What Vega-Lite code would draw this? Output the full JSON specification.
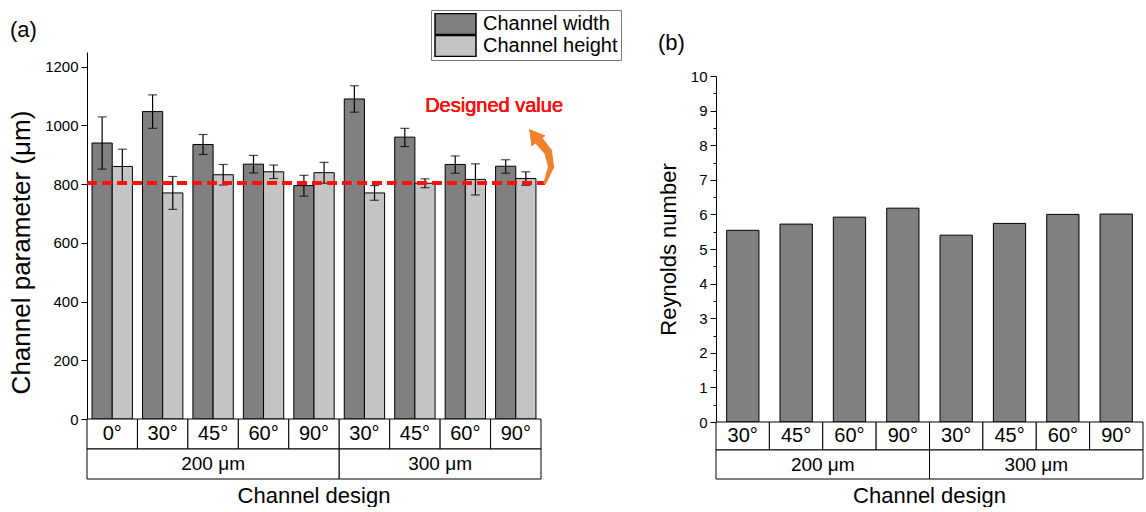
{
  "$schema": "https://vega.github.io/schema/vega-lite/v6.json",
  "background": "white",
  "padding": {"left": 8, "top": 9, "right": 2, "bottom": 0},
  "config": {
    "font": "Liberation Sans",
    "view": {"stroke": null},
    "axis": {"labelColor": "black", "titleColor": "black", "domainColor": "black", "tickColor": "black", "labelFontSize": 15, "titleFontSize": 22, "titleFontWeight": "normal", "grid": false, "labelOverlap": false},
    "title": {"fontWeight": "normal", "color": "black"}
  },
  "datasets": {
    "params": [
      {"key": "200-0°", "series": "Channel width", "value": 940, "lo": 851, "hi": 1029},
      {"key": "200-30°", "series": "Channel width", "value": 1047, "lo": 990, "hi": 1104},
      {"key": "200-45°", "series": "Channel width", "value": 935, "lo": 901, "hi": 969},
      {"key": "200-60°", "series": "Channel width", "value": 868, "lo": 838, "hi": 898},
      {"key": "200-90°", "series": "Channel width", "value": 795, "lo": 759, "hi": 830},
      {"key": "300-30°", "series": "Channel width", "value": 1090, "lo": 1045, "hi": 1135},
      {"key": "300-45°", "series": "Channel width", "value": 960, "lo": 928, "hi": 990},
      {"key": "300-60°", "series": "Channel width", "value": 867, "lo": 837, "hi": 896},
      {"key": "300-90°", "series": "Channel width", "value": 861, "lo": 837, "hi": 883},
      {"key": "200-0°", "series": "Channel height", "value": 860, "lo": 801, "hi": 919},
      {"key": "200-30°", "series": "Channel height", "value": 770, "lo": 714, "hi": 826},
      {"key": "200-45°", "series": "Channel height", "value": 832, "lo": 797, "hi": 867},
      {"key": "200-60°", "series": "Channel height", "value": 842, "lo": 819, "hi": 865},
      {"key": "200-90°", "series": "Channel height", "value": 839, "lo": 803, "hi": 874},
      {"key": "300-30°", "series": "Channel height", "value": 770, "lo": 745, "hi": 795},
      {"key": "300-45°", "series": "Channel height", "value": 803, "lo": 788, "hi": 818},
      {"key": "300-60°", "series": "Channel height", "value": 816, "lo": 763, "hi": 869},
      {"key": "300-90°", "series": "Channel height", "value": 819, "lo": 796, "hi": 842}
    ],
    "arrow": [
      {"i": 1, "ax": 9.08, "ay": 805, "w": 3},
      {"i": 2, "ax": 9.2, "ay": 859, "w": 6},
      {"i": 3, "ax": 9.14, "ay": 910, "w": 8},
      {"i": 4, "ax": 8.95, "ay": 950, "w": 9}
    ],
    "reynolds": [
      {"key": "200-30°", "re": 5.54},
      {"key": "200-45°", "re": 5.72},
      {"key": "200-60°", "re": 5.92},
      {"key": "200-90°", "re": 6.18},
      {"key": "300-30°", "re": 5.40},
      {"key": "300-45°", "re": 5.74},
      {"key": "300-60°", "re": 6.00},
      {"key": "300-90°", "re": 6.01}
    ],
    "angleA": [
      {"s": 0, "e": 1, "m": 0.5, "label": "0°"},
      {"s": 1, "e": 2, "m": 1.5, "label": "30°"},
      {"s": 2, "e": 3, "m": 2.5, "label": "45°"},
      {"s": 3, "e": 4, "m": 3.5, "label": "60°"},
      {"s": 4, "e": 5, "m": 4.5, "label": "90°"},
      {"s": 5, "e": 6, "m": 5.5, "label": "30°"},
      {"s": 6, "e": 7, "m": 6.5, "label": "45°"},
      {"s": 7, "e": 8, "m": 7.5, "label": "60°"},
      {"s": 8, "e": 9, "m": 8.5, "label": "90°"}
    ],
    "groupA": [
      {"s": 0, "e": 5, "m": 2.5, "label": "200 μm"},
      {"s": 5, "e": 9, "m": 7, "label": "300 μm"}
    ],
    "angleB": [
      {"s": 0, "e": 1, "m": 0.5, "label": "30°"},
      {"s": 1, "e": 2, "m": 1.5, "label": "45°"},
      {"s": 2, "e": 3, "m": 2.5, "label": "60°"},
      {"s": 3, "e": 4, "m": 3.5, "label": "90°"},
      {"s": 4, "e": 5, "m": 4.5, "label": "30°"},
      {"s": 5, "e": 6, "m": 5.5, "label": "45°"},
      {"s": 6, "e": 7, "m": 6.5, "label": "60°"},
      {"s": 7, "e": 8, "m": 7.5, "label": "90°"}
    ],
    "groupB": [
      {"s": 0, "e": 4, "m": 2, "label": "200 μm"},
      {"s": 4, "e": 8, "m": 6, "label": "300 μm"}
    ]
  },
  "spacing": 93,
  "hconcat": [
    {
      "spacing": 0,
      "bounds": "flush",
      "vconcat": [
        {
          "width": 454,
          "height": 367,
          "title": {"text": "(a)", "anchor": "start", "frame": "group", "fontSize": 22, "dx": -77, "offset": 10},
          "resolve": {"scale": {"x": "independent"}},
          "layer": [
            {
              "data": {"name": "params"},
              "layer": [
                {
                  "mark": {"type": "bar", "stroke": "black", "strokeWidth": 1},
                  "encoding": {
                    "x": {"field": "key", "type": "nominal", "scale": {"domain": ["200-0°", "200-30°", "200-45°", "200-60°", "200-90°", "300-30°", "300-45°", "300-60°", "300-90°"], "paddingInner": 0.2, "paddingOuter": 0.1}, "axis": null},
                    "xOffset": {"field": "series", "type": "nominal", "scale": {"domain": ["Channel width", "Channel height"], "paddingInner": 0, "paddingOuter": 0}},
                    "y": {
                      "field": "value", "type": "quantitative",
                      "scale": {"domain": [0, 1250], "nice": false},
                      "axis": {
                        "title": "Channel parameter (μm)",
                        "titleFontSize": 26,
                        "titleY": 200,
                        "values": [0, 50, 100, 150, 200, 250, 300, 350, 400, 450, 500, 550, 600, 650, 700, 750, 800, 850, 900, 950, 1000, 1050, 1100, 1150, 1200, 1250],
                        "labelExpr": "datum.value % 100 === 0 ? format(datum.value, 'd') : ''",
                        "tickSize": {"condition": {"test": "datum.value % 100 === 0", "value": 6}, "value": 3},
                        "labelPadding": 3,
                        "titlePadding": 10
                      }
                    },
                    "color": {
                      "field": "series", "type": "nominal",
                      "scale": {"domain": ["Channel width", "Channel height"], "range": ["#808080", "#c4c4c4"]},
                      "legend": {
                        "orient": "none", "legendX": 344, "legendY": -42, "title": null,
                        "labelFontSize": 20, "labelColor": "black",
                        "symbolType": "M-1.95,-1H1.95V1H-1.95Z", "symbolSize": 441,
                        "symbolStrokeColor": "black", "symbolStrokeWidth": 1.5, "symbolOpacity": 1,
                        "symbolOffset": 10, "labelOffset": 16,
                        "clipHeight": 22, "rowPadding": 0, "padding": 3,
                        "strokeColor": "#777", "fillColor": "white"
                      }
                    }
                  }
                },
                {
                  "mark": {"type": "rule", "color": "black", "strokeWidth": 1.2},
                  "encoding": {
                    "x": {"field": "key", "type": "nominal"},
                    "xOffset": {"field": "series", "type": "nominal"},
                    "y": {"field": "lo", "type": "quantitative"},
                    "y2": {"field": "hi"}
                  }
                },
                {
                  "mark": {"type": "tick", "color": "black", "thickness": 1.2, "size": 9},
                  "encoding": {
                    "x": {"field": "key", "type": "nominal"},
                    "xOffset": {"field": "series", "type": "nominal"},
                    "y": {"field": "lo", "type": "quantitative"}
                  }
                },
                {
                  "mark": {"type": "tick", "color": "black", "thickness": 1.2, "size": 9},
                  "encoding": {
                    "x": {"field": "key", "type": "nominal"},
                    "xOffset": {"field": "series", "type": "nominal"},
                    "y": {"field": "hi", "type": "quantitative"}
                  }
                }
              ]
            },
            {
              "data": {"name": "arrow"},
              "layer": [
                {
                  "mark": {"type": "rule", "color": "#ff1010", "strokeWidth": 3.5, "strokeDash": [10, 5]},
                  "encoding": {
                    "x": {"datum": 0, "type": "quantitative", "scale": {"domain": [0, 9], "nice": false, "zero": false}, "axis": null},
                    "x2": {"datum": 9.08},
                    "y": {"datum": 804, "type": "quantitative"}
                  }
                },
                {
                  "mark": {"type": "text", "color": "#ff1010", "fontSize": 20, "fontWeight": "normal"},
                  "encoding": {
                    "x": {"datum": 8.07, "type": "quantitative"},
                    "y": {"datum": 1066, "type": "quantitative"},
                    "text": {"value": "Designed value"}
                  }
                },
                {
                  "mark": {"type": "trail", "color": "#f0822e"},
                  "encoding": {
                    "x": {"field": "ax", "type": "quantitative"},
                    "y": {"field": "ay", "type": "quantitative"},
                    "size": {"field": "w", "type": "quantitative", "scale": null, "legend": null},
                    "order": {"field": "i"}
                  }
                },
                {
                  "mark": {"type": "point", "shape": "triangle-up", "filled": true, "color": "#f0822e", "opacity": 1, "size": 280, "angle": -38},
                  "encoding": {
                    "x": {"datum": 8.86, "type": "quantitative"},
                    "y": {"datum": 967, "type": "quantitative"}
                  }
                }
              ]
            }
          ]
        },
        {
          "width": 454,
          "height": 30,
          "data": {"name": "angleA"},
          "layer": [
            {
              "mark": {"type": "rect", "fill": "white", "stroke": "black", "strokeWidth": 1},
              "encoding": {
                "x": {"field": "s", "type": "quantitative", "scale": {"domain": [0, 9], "nice": false, "zero": false}, "axis": null},
                "x2": {"field": "e"}
              }
            },
            {
              "mark": {"type": "text", "fontSize": 20, "color": "black"},
              "encoding": {
                "x": {"field": "m", "type": "quantitative"},
                "text": {"field": "label"}
              }
            }
          ]
        },
        {
          "width": 454,
          "height": 30,
          "data": {"name": "groupA"},
          "title": {"text": "Channel design", "orient": "bottom", "fontSize": 22, "offset": 6},
          "layer": [
            {
              "mark": {"type": "rect", "fill": "white", "stroke": "black", "strokeWidth": 1},
              "encoding": {
                "x": {"field": "s", "type": "quantitative", "scale": {"domain": [0, 9], "nice": false, "zero": false}, "axis": null},
                "x2": {"field": "e"}
              }
            },
            {
              "mark": {"type": "text", "fontSize": 19, "color": "black"},
              "encoding": {
                "x": {"field": "m", "type": "quantitative"},
                "text": {"field": "label"}
              }
            }
          ]
        }
      ]
    },
    {
      "spacing": 0,
      "bounds": "flush",
      "vconcat": [
        {
          "width": 427,
          "height": 24,
          "data": {"values": [{"a": 1}]},
          "mark": {"type": "rect", "opacity": 0},
          "encoding": {}
        },
        {
          "width": 427,
          "height": 346,
          "title": {"text": "(b)", "anchor": "start", "frame": "group", "fontSize": 22, "dx": -58, "offset": 14},
          "data": {"name": "reynolds"},
          "mark": {"type": "bar", "fill": "#808080", "stroke": "black", "strokeWidth": 1},
          "encoding": {
            "x": {"field": "key", "type": "nominal", "scale": {"domain": ["200-30°", "200-45°", "200-60°", "200-90°", "300-30°", "300-45°", "300-60°", "300-90°"], "paddingInner": 0.395, "paddingOuter": 0.2}, "axis": null},
            "y": {
              "field": "re", "type": "quantitative",
              "scale": {"domain": [0, 10], "nice": false},
              "axis": {
                "title": "Reynolds number",
                "values": [0, 0.5, 1, 1.5, 2, 2.5, 3, 3.5, 4, 4.5, 5, 5.5, 6, 6.5, 7, 7.5, 8, 8.5, 9, 9.5, 10],
                "labelExpr": "datum.value % 1 === 0 ? format(datum.value, 'd') : ''",
                "tickSize": {"condition": {"test": "datum.value % 1 === 0", "value": 6}, "value": 3},
                "labelPadding": 3,
                "titlePadding": 10
              }
            }
          }
        },
        {
          "width": 427,
          "height": 28,
          "data": {"name": "angleB"},
          "layer": [
            {
              "mark": {"type": "rect", "fill": "white", "stroke": "black", "strokeWidth": 1},
              "encoding": {
                "x": {"field": "s", "type": "quantitative", "scale": {"domain": [0, 8], "nice": false, "zero": false}, "axis": null},
                "x2": {"field": "e"}
              }
            },
            {
              "mark": {"type": "text", "fontSize": 20, "color": "black"},
              "encoding": {
                "x": {"field": "m", "type": "quantitative"},
                "text": {"field": "label"}
              }
            }
          ]
        },
        {
          "width": 427,
          "height": 29,
          "data": {"name": "groupB"},
          "title": {"text": "Channel design", "orient": "bottom", "fontSize": 22, "offset": 6},
          "layer": [
            {
              "mark": {"type": "rect", "fill": "white", "stroke": "black", "strokeWidth": 1},
              "encoding": {
                "x": {"field": "s", "type": "quantitative", "scale": {"domain": [0, 8], "nice": false, "zero": false}, "axis": null},
                "x2": {"field": "e"}
              }
            },
            {
              "mark": {"type": "text", "fontSize": 19, "color": "black"},
              "encoding": {
                "x": {"field": "m", "type": "quantitative"},
                "text": {"field": "label"}
              }
            }
          ]
        }
      ]
    }
  ]
}
